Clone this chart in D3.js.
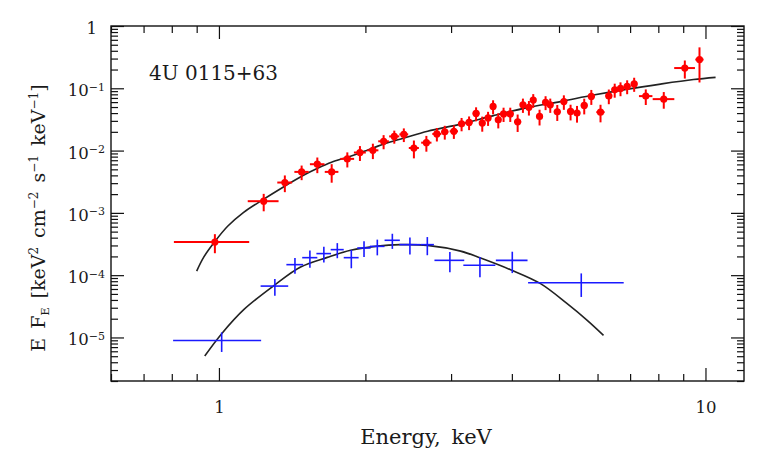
<!DOCTYPE html>
<html>
<head>
<meta charset="utf-8">
<script src="https://cdn.jsdelivr.net/npm/d3@7"></script>
<style>
  body { margin: 0; background: #fff; }
  text { font-family: "DejaVu Serif", serif; fill: #1a1a1a; }
</style>
</head>
<body>
<div id="chart"></div>
<script>
// Red spectrum: energy (keV), bin half-width, E*F_E and its error
const redE  = [0.981, 1.236, 1.366, 1.479, 1.593, 1.705, 1.836, 1.949, 2.072, 2.180,
               2.293, 2.399, 2.516, 2.669, 2.805, 2.912, 3.040, 3.153, 3.267, 3.377,
               3.477, 3.574, 3.660, 3.751, 3.846, 3.970, 4.111, 4.215, 4.336, 4.426,
               4.560, 4.692, 4.797, 4.959, 5.116, 5.281, 5.445, 5.634, 5.826, 6.085,
               6.329, 6.508, 6.689, 6.903, 7.136, 7.539, 8.209, 9.069, 9.721];
const redDE = [0.173, 0.090, 0.048, 0.050, 0.055, 0.055, 0.060, 0.055, 0.055, 0.055,
               0.055, 0.050, 0.060, 0.065, 0.060, 0.050, 0.060, 0.055, 0.055, 0.055,
               0.050, 0.050, 0.045, 0.045, 0.050, 0.060, 0.070, 0.050, 0.060, 0.045,
               0.070, 0.060, 0.050, 0.080, 0.080, 0.080, 0.080, 0.090, 0.100, 0.120,
               0.100, 0.080, 0.090, 0.110, 0.110, 0.240, 0.420, 0.445, 0.190];
const redF  = [3.40e-4, 1.54e-3, 3.07e-3, 4.55e-3, 6.04e-3, 4.55e-3, 7.36e-3, 9.31e-3, 1.01e-2, 1.41e-2,
               1.69e-2, 1.82e-2, 1.10e-2, 1.34e-2, 1.85e-2, 2.00e-2, 2.04e-2, 2.69e-2, 2.83e-2, 3.95e-2,
               2.76e-2, 3.34e-2, 5.12e-2, 3.12e-2, 3.88e-2, 3.88e-2, 2.89e-2, 5.43e-2, 4.95e-2, 6.46e-2,
               3.53e-2, 5.96e-2, 5.43e-2, 4.19e-2, 6.11e-2, 4.25e-2, 4.01e-2, 5.31e-2, 7.41e-2, 4.14e-2,
               7.55e-2, 9.46e-2, 9.96e-2, 0.1073, 0.1177, 7.49e-2, 6.70e-2, 0.2113, 0.289];
const redDF = [1.15e-4, 4.8e-4, 9.2e-4, 1.2e-3, 1.7e-3, 1.5e-3, 2.0e-3, 2.5e-3, 2.8e-3, 3.6e-3,
               4.0e-3, 4.5e-3, 3.5e-3, 3.8e-3, 4.5e-3, 5.0e-3, 5.0e-3, 6.5e-3, 7.0e-3, 1.0e-2,
               7.5e-3, 8.5e-3, 1.3e-2, 8.5e-3, 1.0e-2, 1.0e-2, 9.0e-3, 1.4e-2, 1.3e-2, 1.6e-2,
               1.0e-2, 1.5e-2, 1.4e-2, 1.2e-2, 1.6e-2, 1.2e-2, 1.2e-2, 1.5e-2, 2.0e-2, 1.3e-2,
               2.0e-2, 2.4e-2, 2.5e-2, 2.7e-2, 3.0e-2, 2.1e-2, 2.0e-2, 0.068, 0.165];

// Blue spectrum
const blueE  = [1.013, 1.303, 1.433, 1.538, 1.643, 1.751, 1.871, 1.987, 2.116, 2.272,
                2.469, 2.681, 2.983, 3.439, 4.008, 5.555];
const blueDE = [0.208, 0.085, 0.057, 0.055, 0.057, 0.054, 0.066, 0.063, 0.073, 0.082,
                0.121, 0.085, 0.210, 0.260, 0.300, 1.236];
const blueF  = [8.95e-6, 6.68e-5, 1.475e-4, 1.91e-4, 2.22e-4, 2.57e-4, 1.91e-4, 2.73e-4, 2.90e-4, 3.63e-4,
                3.09e-4, 3.09e-4, 1.73e-4, 1.44e-4, 1.73e-4, 7.57e-5];
const blueDF = [3.1e-6, 2.0e-5, 4.2e-5, 5.9e-5, 6.3e-5, 7.0e-5, 6.2e-5, 7.8e-5, 8.2e-5, 9.9e-5,
                9.4e-5, 1.0e-4, 6.2e-5, 5.1e-5, 6.5e-5, 3.1e-5];

// Model curves
const redModelE = [0.900, 0.930, 0.980, 1.042, 1.124, 1.236, 1.365, 1.479, 1.595, 1.704,
                   1.838, 1.955, 2.180, 2.396, 2.685, 3.138, 3.668, 4.309, 5.036, 5.886,
                   6.917, 8.084, 9.450, 10.49];
const redModelF = [1.16e-4, 1.93e-4, 3.43e-4, 6.09e-4, 1.02e-3, 1.66e-3, 2.68e-3, 3.88e-3, 5.21e-3, 6.51e-3,
                   7.84e-3, 9.25e-3, 1.27e-2, 1.58e-2, 2.05e-2, 2.66e-2, 3.64e-2, 4.89e-2, 6.11e-2, 7.78e-2,
                   9.71e-2, 0.1168, 0.138, 0.1497];
const blueModelE = [0.935, 1.013, 1.126, 1.303, 1.472, 1.670, 1.865, 2.116, 2.362, 2.681,
                    3.138, 3.450, 3.976, 4.581, 5.197, 5.714, 6.172];
const blueModelF = [5.04e-6, 1.15e-5, 2.82e-5, 6.98e-5, 1.35e-4, 1.93e-4, 2.51e-4, 2.93e-4, 3.09e-4, 3.01e-4,
                    2.43e-4, 1.88e-4, 1.22e-4, 7.30e-5, 3.48e-5, 1.88e-5, 1.08e-5];

// Tick labels
const xMajor = [1, 10];
const xLabels = ["1", "10"];
const yMajor = [1, 1e-1, 1e-2, 1e-3, 1e-4, 1e-5];
const yExps = ["", "−1", "−2", "−3", "−4", "−5"];
const title = "4U 0115+63";

var margin = {top: 26, right: 19, bottom: 72, left: 111},
    width = 763 - margin.left - margin.right,
    height = 453 - margin.top - margin.bottom;

const root = d3.select("#chart").append("svg")
    .attr("width", 763)
    .attr("height", 453);

const svg = root.append("g")
    .attr("transform", `translate(${margin.left}, ${margin.top})`);

const x = d3.scaleLog().domain([0.6, 12]).range([0, width]);
const y = d3.scaleLog().domain([2e-6, 1]).range([height, 0]);

const isMajorX = d => xMajor.some(v => Math.abs(v - d) < 1e-9);
const isMajorY = d => yMajor.some(v => Math.abs(Math.log10(v) - Math.log10(d)) < 1e-6);
const xMinor = x.ticks().filter(d => !isMajorX(d));
const yMinor = y.ticks().filter(d => !isMajorY(d));

// minor ticks, all four sides, pointing inward
function ticks(axis, vals, size, tr) {
    const g = svg.append("g")
        .attr("transform", tr)
        .call(axis.tickValues(vals).tickSize(-size).tickFormat(""));
    g.select(".domain").remove();
    g.selectAll(".tick line").attr("stroke", "#111").attr("stroke-width", 1.2);
    return g;
}
ticks(d3.axisBottom(x), xMinor, 7, `translate(0,${height})`);
ticks(d3.axisTop(x), xMinor, 7, "translate(0,0)");
ticks(d3.axisLeft(y), yMinor, 7, "translate(0,0)");
ticks(d3.axisRight(y), yMinor, 7, `translate(${width},0)`);
ticks(d3.axisTop(x), xMajor, 13, "translate(0,0)");
ticks(d3.axisRight(y), yMajor, 13, `translate(${width},0)`);

// major ticks with labels
const xAxis = svg.append("g")
    .attr("transform", `translate(0,${height})`)
    .call(d3.axisBottom(x).tickValues(xMajor).tickSize(-13).tickPadding(20)
        .tickFormat((d, i) => xLabels[i]));
xAxis.select(".domain").remove();
xAxis.selectAll(".tick line").attr("stroke", "#111").attr("stroke-width", 1.2);
xAxis.selectAll("text").style("font-size", "16.5px").attr("fill", "#1a1a1a");

const yAxis = svg.append("g")
    .call(d3.axisLeft(y).tickValues(yMajor).tickSize(-13).tickPadding(6)
        .tickFormat(""));
yAxis.select(".domain").remove();
yAxis.selectAll(".tick line").attr("stroke", "#111").attr("stroke-width", 1.2);
yAxis.selectAll(".tick text").each(function(d, i) {
    const t = d3.select(this)
        .style("font-size", "16.5px")
        .attr("fill", "#1a1a1a")
        .attr("dy", "0.45em");
    if (yExps[i] === "") {
        t.text("1").attr("x", -14);
    } else {
        t.text("10");
        t.append("tspan").attr("dy", "-0.5em").style("font-size", "11px").text(yExps[i]);
    }
});

// frame
svg.append("rect")
    .attr("width", width)
    .attr("height", height)
    .attr("fill", "none")
    .attr("stroke", "#111")
    .attr("stroke-width", 1.4);

// model curves
const line = d3.line()
    .x(d => x(d[0]))
    .y(d => y(d[1]))
    .curve(d3.curveCatmullRom.alpha(0.5));

svg.append("path")
    .datum(d3.zip(redModelE, redModelF))
    .attr("fill", "none")
    .attr("stroke", "#222")
    .attr("stroke-width", 1.6)
    .attr("d", line);

svg.append("path")
    .datum(d3.zip(blueModelE, blueModelF))
    .attr("fill", "none")
    .attr("stroke", "#222")
    .attr("stroke-width", 1.6)
    .attr("d", line);

// data points with error bars
function errorBars(E, dE, F, dF, color, w) {
    const pts = E.map((e, i) => ({e: e, de: dE[i], f: F[i], df: dF[i]}));
    const g = svg.append("g").attr("stroke", color).attr("stroke-width", w);
    g.selectAll(".hbar").data(pts).enter().append("line")
        .attr("x1", d => x(d.e - d.de))
        .attr("x2", d => x(d.e + d.de))
        .attr("y1", d => y(d.f))
        .attr("y2", d => y(d.f));
    g.selectAll(".vbar").data(pts).enter().append("line")
        .attr("x1", d => x(d.e))
        .attr("x2", d => x(d.e))
        .attr("y1", d => y(d.f - d.df))
        .attr("y2", d => y(d.f + d.df));
    return pts;
}

const redPts = errorBars(redE, redDE, redF, redDF, "#ff0000", 2);
svg.selectAll(".dot").data(redPts).enter().append("circle")
    .attr("cx", d => x(d.e))
    .attr("cy", d => y(d.f))
    .attr("r", 3.6)
    .attr("fill", "#ff0000");

errorBars(blueE, blueDE, blueF, blueDF, "#1a1aff", 1.6);

// title and axis labels
svg.append("text")
    .attr("x", 38)
    .attr("y", 54)
    .style("font-size", "20px")
    .text(title);

root.append("text")
    .attr("x", 426)
    .attr("y", 444)
    .attr("text-anchor", "middle")
    .style("font-size", "21px")
    .style("word-spacing", "4px")
    .text("Energy, keV");

const ylab = root.append("text")
    .attr("transform", "translate(45,218) rotate(-90)")
    .attr("text-anchor", "middle")
    .style("font-size", "19px")
    .style("word-spacing", "3px");
ylab.append("tspan").text("E F");
ylab.append("tspan").attr("dy", "4px").style("font-size", "11px").text("E");
ylab.append("tspan").attr("dy", "-4px").text(" [keV");
ylab.append("tspan").attr("dy", "-7px").style("font-size", "12px").text("2");
ylab.append("tspan").attr("dy", "7px").text(" cm");
ylab.append("tspan").attr("dy", "-7px").style("font-size", "12px").text("−2");
ylab.append("tspan").attr("dy", "7px").text(" s");
ylab.append("tspan").attr("dy", "-7px").style("font-size", "12px").text("−1");
ylab.append("tspan").attr("dy", "7px").text(" keV");
ylab.append("tspan").attr("dy", "-7px").style("font-size", "12px").text("−1");
ylab.append("tspan").attr("dy", "7px").text("]");
</script>
</body>
</html>
